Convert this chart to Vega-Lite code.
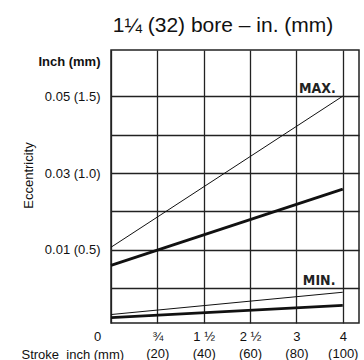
{
  "$schema": "https://vega.github.io/schema/vega-lite/v6.json",
  "width": 248,
  "height": 273,
  "autosize": {"type": "none"},
  "padding": {"left": 111, "top": 50, "right": 5, "bottom": 37},
  "background": "white",
  "title": {
    "text": "1¼ (32) bore – in. (mm)",
    "font": "Liberation Sans",
    "fontSize": 21,
    "fontWeight": "normal",
    "color": "#111",
    "anchor": "middle",
    "dx": -12,
    "offset": 14
  },
  "config": {
    "view": {"stroke": "#222", "strokeWidth": 1.5},
    "font": "Liberation Sans"
  },
  "datasets": {
    "lines": [
      {"group": "MAX", "line": "thin", "stroke": 0, "ecc": 0.0107},
      {"group": "MAX", "line": "thin", "stroke": 100, "ecc": 0.05},
      {"group": "MAX", "line": "thick", "stroke": 0, "ecc": 0.006},
      {"group": "MAX", "line": "thick", "stroke": 100, "ecc": 0.0258},
      {"group": "MIN", "line": "thin", "stroke": 0, "ecc": -0.0068},
      {"group": "MIN", "line": "thin", "stroke": 100, "ecc": -0.001},
      {"group": "MIN", "line": "thick", "stroke": 0, "ecc": -0.0076},
      {"group": "MIN", "line": "thick", "stroke": 100, "ecc": -0.0044}
    ],
    "notes": [
      {"label": "MAX.", "stroke": 89, "ecc": 0.0508},
      {"label": "MIN.", "stroke": 89.8, "ecc": 0.0008}
    ]
  },
  "layer": [
    {
      "data": {"name": "lines"},
      "mark": {"type": "line", "color": "#111"},
      "encoding": {
        "x": {
          "field": "stroke",
          "type": "quantitative",
          "scale": {"domain": [0, 107], "nice": false},
          "axis": {
            "values": [0, 20, 40, 60, 80, 100],
            "grid": true,
            "gridColor": "#222",
            "gridWidth": 1.3,
            "domain": false,
            "ticks": false,
            "labelFlush": false,
            "labelBound": false,
            "labelOverlap": false,
            "labelExpr": "datum.value == 0 ? '0' : datum.value == 20 ? ['¾', '(20)'] : datum.value == 40 ? ['1 ½', '(40)'] : datum.value == 60 ? ['2 ½', '(60)'] : datum.value == 80 ? ['3', '(80)'] : ['4', '(100)']",
            "labelOffset": {"condition": {"test": "datum.value == 0", "value": -14}, "value": 0},
            "labelPadding": 7,
            "labelFontSize": 13,
            "labelLineHeight": 17,
            "labelColor": "#111",
            "title": "Stroke\u00a0\u00a0inch (mm)",
            "titleX": -90,
            "titleY": 35,
            "titleAlign": "left",
            "titleBaseline": "alphabetic",
            "titleFontSize": 13,
            "titleFontWeight": "normal",
            "titleColor": "#111"
          }
        },
        "y": {
          "field": "ecc",
          "type": "quantitative",
          "scale": {"domain": [-0.009, 0.062], "nice": false, "zero": false},
          "axis": {
            "values": [0, 0.01, 0.02, 0.03, 0.04, 0.05, 0.059],
            "grid": true,
            "gridColor": "#222",
            "gridWidth": 1.3,
            "gridOpacity": {"condition": {"test": "datum.value > 0.055", "value": 0}, "value": 1},
            "domain": false,
            "ticks": false,
            "labelOverlap": false,
            "labelFlush": false,
            "labelBound": false,
            "labelExpr": "datum.value == 0.01 ? '0.01 (0.5)' : datum.value == 0.03 ? '0.03 (1.0)' : datum.value == 0.05 ? '0.05 (1.5)' : datum.value > 0.055 ? 'Inch (mm)' : ''",
            "labelFontWeight": {"condition": {"test": "datum.value > 0.055", "value": "bold"}, "value": "normal"},
            "labelFontSize": 13,
            "labelPadding": 11,
            "labelColor": "#111",
            "title": "Eccentricity",
            "titleX": -83,
            "titleY": 125,
            "titleAngle": 270,
            "titleAlign": "center",
            "titleBaseline": "middle",
            "titleFontSize": 13,
            "titleFontWeight": "normal",
            "titleColor": "#111"
          }
        },
        "detail": {"field": "group", "type": "nominal"},
        "strokeWidth": {
          "field": "line",
          "type": "nominal",
          "scale": {"domain": ["thin", "thick"], "range": [1, 2.8]},
          "legend": null
        }
      }
    },
    {
      "data": {"name": "notes"},
      "mark": {
        "type": "text",
        "font": "Liberation Sans Narrow, DejaVu Sans Condensed, sans-serif",
        "fontWeight": "bold",
        "fontSize": 14,
        "align": "center",
        "baseline": "alphabetic",
        "color": "#222"
      },
      "encoding": {
        "x": {"field": "stroke", "type": "quantitative"},
        "y": {"field": "ecc", "type": "quantitative"},
        "text": {"field": "label", "type": "nominal"}
      }
    }
  ]
}
